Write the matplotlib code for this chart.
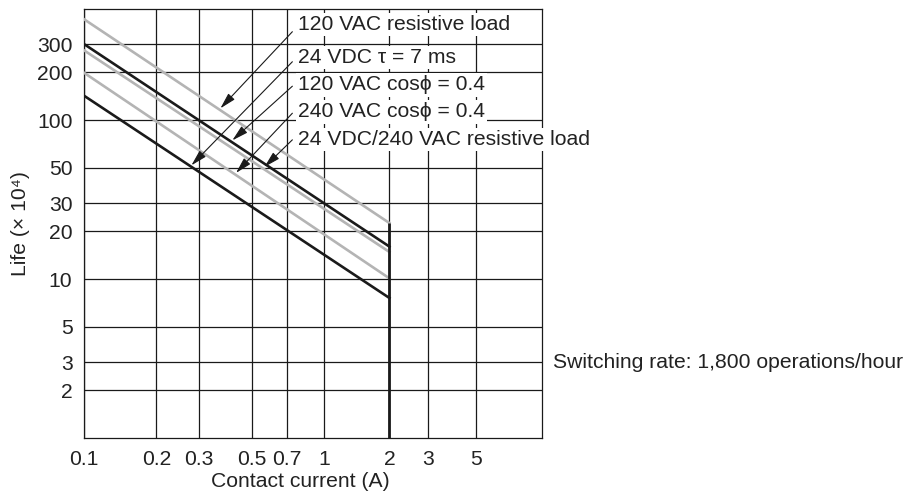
#!/usr/bin/env python3
"""
Relay endurance curve: life vs contact current
"""

import matplotlib
matplotlib.use('Agg')
import matplotlib.pyplot as plt
import numpy as np

plt.rcParams['font.family'] = ['Liberation Sans', 'DejaVu Sans']

# endpoints of each curve, straight lines in log-log
current = [0.1, 2.0]
life_120vac_res = [430, 22.5]
life_24vdc_240vac_res = [274, 14.8]
life_120vac_cos = [300, 16.0]
life_240vac_cos = [198, 10.1]
life_24vdc_tau = [142, 7.6]

labels = ['120 VAC resistive load',
          '24 VDC \u03c4 = 7 ms',
          '120 VAC cos\u03d5 = 0.4',
          '240 VAC cos\u03d5 = 0.4',
          '24 VDC/240 VAC resistive load']
label_series = [life_120vac_res, life_24vdc_tau, life_120vac_cos,
                life_240vac_cos, life_24vdc_240vac_res]
arrow_x = [0.37, 0.28, 0.415, 0.43, 0.565]

x_ticks = [0.1, 0.2, 0.3, 0.5, 0.7, 1, 2, 3, 5]
x_ticklabels = ['0.1', '0.2', '0.3', '0.5', '0.7', '1', '2', '3', '5']
y_ticks = [2, 3, 5, 10, 20, 30, 50, 100, 200, 300]
y_ticklabels = ['2', '3', '5', '10', '20', '30', '50', '100', '200', '300']

BLACK = '#1a1a1a'
GRAY = '#b4b4b4'
TXT = '#222222'
FS = 15.2


# the chart's first decade is drawn a little wider than the second
def fwd(x):
    lx = np.log10(np.clip(x, 1e-12, None))
    return np.where(lx <= 0, lx * 1.1, lx)


def inv(y):
    y = np.asarray(y, dtype=float)
    return np.where(y <= 0, 10 ** (y / 1.1), 10 ** y)


def on_line(xv, series):
    lx = np.log10(current)
    ly = np.log10(series)
    return 10 ** np.interp(np.log10(xv), lx, ly)


def plot_life():
    fig = plt.figure(figsize=(9.12, 4.93), dpi=100)
    ax = fig.add_axes([0.0924, 0.1116, 0.5015, 0.8702])

    ax.set_xscale('function', functions=(fwd, inv))
    ax.set_yscale('log')
    ax.set_xlim(0.1, 10)
    ax.set_ylim(1, 500)

    ax.set_xticks(x_ticks)
    ax.set_xticklabels(x_ticklabels)
    ax.set_yticks(y_ticks)
    ax.set_yticklabels(y_ticklabels)
    ax.minorticks_off()
    ax.tick_params(axis='x', length=0, pad=9, labelsize=FS, labelcolor=TXT)
    ax.tick_params(axis='y', length=0, pad=8.5, labelsize=FS, labelcolor=TXT)

    ax.grid(True, color=BLACK, lw=0.9)
    ax.set_axisbelow(True)
    for sp in ax.spines.values():
        sp.set_color(BLACK)
        sp.set_linewidth(0.9)

    ax.plot(current, life_120vac_res, color=GRAY, lw=1.9, zorder=3)
    ax.plot(current, life_24vdc_240vac_res, color=GRAY, lw=1.9, zorder=3)
    ax.plot(current, life_240vac_cos, color=GRAY, lw=1.9, zorder=3)
    ax.plot(current, life_120vac_cos, color=BLACK, lw=1.9, zorder=4)
    ax.plot(current, life_24vdc_tau, color=BLACK, lw=1.9, zorder=4)
    # current limit at 2 A
    top = max(s[-1] for s in label_series)
    ax.vlines(current[-1], 1, top, color=BLACK, lw=2.0, zorder=4)

    text_y = [0.963, 0.886, 0.823, 0.760, 0.695]
    tail_y = [0.947, 0.877, 0.820, 0.757, 0.695]
    for lab, ser, xv, ty, ay in zip(labels, label_series, arrow_x, text_y, tail_y):
        ax.annotate('', xy=(xv, on_line(xv, ser)), xycoords='data',
                    xytext=(0.455, ay), textcoords='axes fraction',
                    arrowprops=dict(arrowstyle='-|>,head_length=0.75,head_width=0.2',
                                    color=BLACK, lw=0.8, shrinkA=0, shrinkB=0,
                                    mutation_scale=13),
                    zorder=6)
        ax.text(0.467, ty, lab, transform=ax.transAxes, fontsize=FS, color=TXT,
                ha='left', va='center', zorder=7, clip_on=False,
                bbox=dict(facecolor='white', edgecolor='none', pad=1.5))

    ax.set_xlabel('Contact current (A)', fontsize=FS, color=TXT)
    ax.xaxis.set_label_coords(0.4716, -0.079)
    ax.set_ylabel('Life (\u00d7 10\u2074)', fontsize=FS, color=TXT)
    ax.yaxis.set_label_coords(-0.119, 0.5)

    fig.text(0.606, 0.2657, 'Switching rate: 1,800 operations/hour',
             fontsize=FS, color=TXT, ha='left', va='center')

    fig.savefig('out.png', dpi=100)
    plt.close(fig)


if __name__ == '__main__':
    plot_life()
